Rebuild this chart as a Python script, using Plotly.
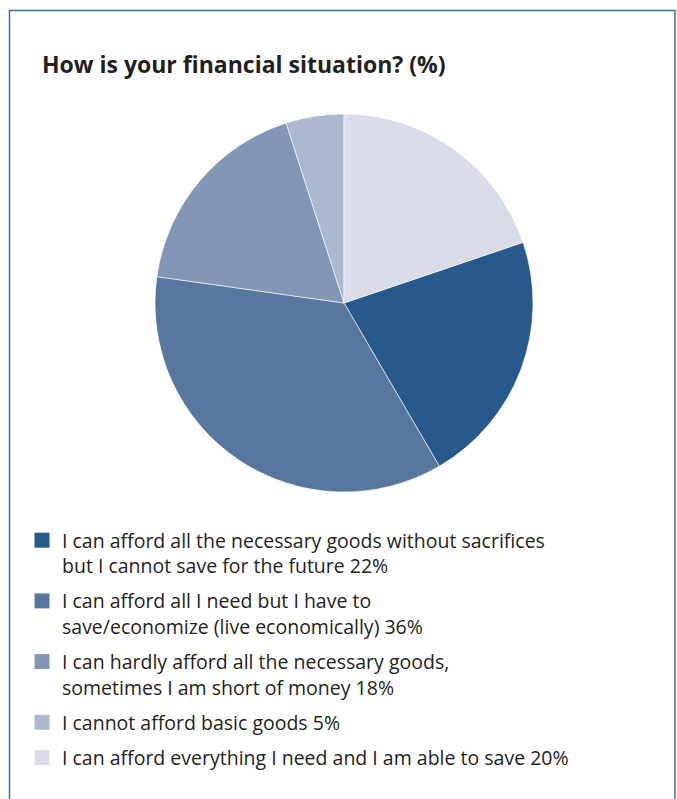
import plotly.graph_objects as go

# Survey answers, in legend order
labels = [
    "I can afford all the necessary goods without sacrifices<br>but I cannot save for the future 22%",
    "I can afford all I need but I have to<br>save/economize (live economically) 36%",
    "I can hardly afford all the necessary goods,<br>sometimes I am short of money 18%",
    "I cannot afford basic goods 5%",
    "I can afford everything I need and I am able to save 20%",
]
values = [22, 36, 18, 5, 20]
colors = ["#27598a", "#57779f", "#8297b5", "#abb8cf", "#d8dce8"]

W, H = 677, 799
FONT = "Open Sans"
TEXT = "#231f20"

fig = go.Figure()

# The last answer sits at 12 o'clock; the rest follow clockwise after it
start_angle = 360 * values[-1] / sum(values)

fig.add_trace(go.Pie(
    labels=labels,
    values=values,
    sort=False,
    direction="clockwise",
    rotation=start_angle,
    marker=dict(colors=colors, line=dict(color="white", width=0.6)),
    textinfo="none",
    hoverinfo="label+value",
    showlegend=False,
    domain=dict(x=[155 / W, 533 / W], y=[(496 - 189) / H, (496 + 189) / H]),
))

# Legend entries, one group per answer so the groups can be spaced apart
for i, (lab, col) in enumerate(zip(labels, colors)):
    fig.add_trace(go.Scatter(
        x=[None], y=[None],
        mode="markers",
        marker=dict(symbol="square", size=15, color=col),
        name=lab,
        legendgroup=f"g{i}",
        showlegend=True,
        hoverinfo="skip",
    ))

fig.update_layout(
    width=W, height=H,
    margin=dict(l=0, r=0, t=0, b=0),
    paper_bgcolor="white",
    plot_bgcolor="white",
    xaxis=dict(visible=False),
    yaxis=dict(visible=False),
    title=dict(
        text="<b>How is your financial situation? (%)</b>",
        font=dict(family=FONT, size=23, color=TEXT),
        x=42 / W, xanchor="left",
        y=1 - 65 / H, yanchor="middle",
        xref="paper", yref="container",
    ),
    legend=dict(
        x=22 / W, xanchor="left",
        y=1 - 521 / H, yanchor="top",
        font=dict(family=FONT, size=19.5, color=TEXT),
        valign="top",
        tracegroupgap=7,
        bgcolor="rgba(0,0,0,0)",
    ),
    shapes=[dict(
        type="rect", xref="paper", yref="paper",
        x0=9.5 / W, x1=675 / W, y0=-0.05, y1=1 - 10.5 / H,
        line=dict(color="#3a6ead", width=1.5),
        fillcolor="rgba(0,0,0,0)",
        layer="below",
    )],
)

fig.write_html("out.html")
